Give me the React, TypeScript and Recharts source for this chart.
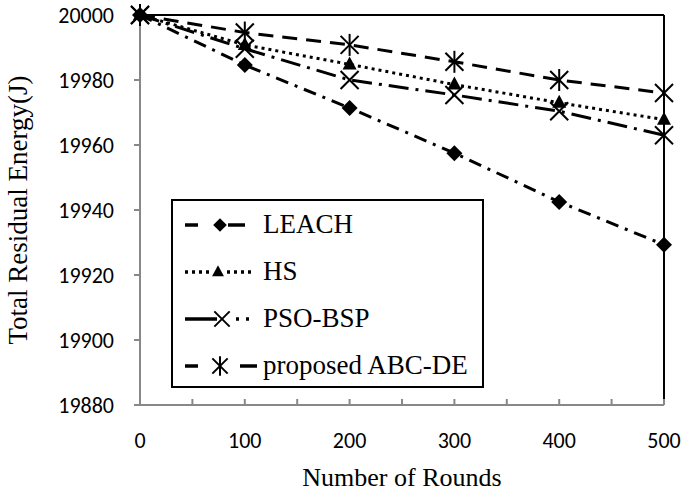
import React from 'react';
import { LineChart, Line, XAxis, YAxis, ReferenceLine, Legend } from 'recharts';

// values
const rounds = [0, 100, 200, 300, 400, 500];
const leach = [20000, 19984.6, 19971.4, 19957.5, 19942.5, 19929.3];
const hs = [20000, 19990.8, 19984.8, 19978.6, 19973, 19967.8];
const psoBsp = [20000, 19989.6, 19980, 19975.4, 19970.4, 19963];
const abcDe = [20000, 19994.6, 19990.8, 19985.6, 19980, 19976];

const xTicks = [0, 50, 100, 150, 200, 250, 300, 350, 400, 450, 500];
const yTicks = [19880, 19900, 19920, 19940, 19960, 19980, 20000];

const data = rounds.map((r, i) => ({
  round: r,
  leach: leach[i],
  hs: hs[i],
  psoBsp: psoBsp[i],
  abcDe: abcDe[i],
}));

const SERIES = [
  { key: 'leach', name: 'LEACH', dash: '13 7 3 7', marker: 'diamond' },
  { key: 'hs', name: 'HS', dash: '3 4', marker: 'triangle' },
  { key: 'psoBsp', name: 'PSO-BSP', dash: '20 7 3 7', marker: 'cross' },
  { key: 'abcDe', name: 'proposed ABC-DE', dash: '15 9', marker: 'asterisk' },
];

const SERIF = '"Liberation Serif", "Times New Roman", serif';
const SANS = 'Carlito, Calibri, "Liberation Sans", Arial, sans-serif';

const Marker = ({ type, cx, cy, s = 1 }: { type: string; cx: number; cy: number; s?: number }) => {
  if (type === 'diamond') {
    const r = 8 * s;
    return <path d={`M${cx},${cy - r}L${cx + r},${cy}L${cx},${cy + r}L${cx - r},${cy}Z`} fill="#000" />;
  }
  if (type === 'triangle') {
    return <path d={`M${cx},${cy - 8 * s}L${cx + 7 * s},${cy + 5 * s}L${cx - 7 * s},${cy + 5 * s}Z`} fill="#000" />;
  }
  const r = 9 * s;
  return (
    <g stroke="#000" strokeWidth={2}>
      <line x1={cx - r} y1={cy - r} x2={cx + r} y2={cy + r} />
      <line x1={cx - r} y1={cy + r} x2={cx + r} y2={cy - r} />
      {type === 'asterisk' && <line x1={cx} y1={cy - r - 2} x2={cx} y2={cy + r + 2} />}
    </g>
  );
};

// legend sample strokes (pieces left/right of the marker)
const SAMPLES: Record<string, { segs: [number, number, string][]; mx: number }> = {
  leach: { segs: [[12, 25, ''], [55, 72, '']], mx: 47 },
  hs: { segs: [[12, 40, '3 4'], [54, 82, '3 4']], mx: 45 },
  psoBsp: { segs: [[12, 44, ''], [63, 83, '3 7']], mx: 49 },
  abcDe: { segs: [[12, 25, ''], [67, 84, '']], mx: 47 },
};

const renderLegend = () => (
  <div
    style={{
      border: '2px solid #000',
      background: '#fff',
      width: 309,
      height: 185,
      overflow: 'visible',
    }}
  >
    {SERIES.map((s) => {
      const smp = SAMPLES[s.key];
      return (
        <div key={s.key} style={{ display: 'flex', alignItems: 'center', height: 47 }}>
          <svg width={90} height={30} style={{ flex: 'none' }}>
            {smp.segs.map(([a, b, d], i) => (
              <line key={i} x1={a} y1={15} x2={b} y2={15} stroke="#000" strokeWidth={3.5} strokeDasharray={d || undefined} />
            ))}
            <Marker type={s.marker} cx={smp.mx} cy={15} s={0.85} />
          </svg>
          <span style={{ fontFamily: SERIF, fontSize: 27, color: '#000', whiteSpace: 'nowrap' }}>{s.name}</span>
        </div>
      );
    })}
  </div>
);

const xTickFormat = (v: number) => (v % 100 === 0 ? String(v) : '');

export default function App() {
  return (
    <div style={{ position: 'absolute', left: 0, top: 0, width: 685, height: 496, background: '#fff' }}>
      <LineChart width={685} height={496} data={data} margin={{ top: 15, right: 21, bottom: 0, left: 0 }}>
        <ReferenceLine y={20000} stroke="#000" strokeWidth={2} />
        <ReferenceLine x={500} stroke="#000" strokeWidth={2} />
        <XAxis
          dataKey="round"
          type="number"
          domain={[0, 500]}
          ticks={xTicks}
          tickFormatter={xTickFormat}
          interval={0}
          height={91}
          stroke="#888"
          strokeWidth={2}
          tickSize={-6}
          tickMargin={33}
          tick={{ fill: '#000', fontFamily: SANS, fontSize: 22 }}
          label={{
            value: 'Number of Rounds',
            position: 'insideBottom',
            offset: 10,
            style: { fontFamily: SERIF, fontSize: 26, fill: '#000' },
          }}
        />
        <YAxis
          type="number"
          domain={[19880, 20000]}
          ticks={yTicks}
          interval={0}
          width={140}
          stroke="#888"
          strokeWidth={2}
          tickSize={6}
          tickMargin={20}
          tick={{ fill: '#000', fontFamily: SANS, fontSize: 22 }}
          label={{
            value: 'Total Residual Energy(J)',
            angle: -90,
            position: 'insideLeft',
            offset: 17,
            style: { fontFamily: SERIF, fontSize: 27, fill: '#000', textAnchor: 'middle' },
          }}
        />
        <Legend
          layout="horizontal"
          verticalAlign="middle"
          align="center"
          content={renderLegend}
          wrapperStyle={{ position: 'absolute', left: 171, top: 199, width: 313, height: 189 }}
        />
        {SERIES.map((s) => (
          <Line
            key={s.key}
            dataKey={s.key}
            name={s.name}
            type="linear"
            stroke="#000"
            strokeWidth={3}
            strokeDasharray={s.dash}
            isAnimationActive={false}
            dot={(p: any) => <Marker key={`${s.key}-${p.index}`} type={s.marker} cx={p.cx} cy={p.cy} />}
            activeDot={false}
          />
        ))}
      </LineChart>
    </div>
  );
}
